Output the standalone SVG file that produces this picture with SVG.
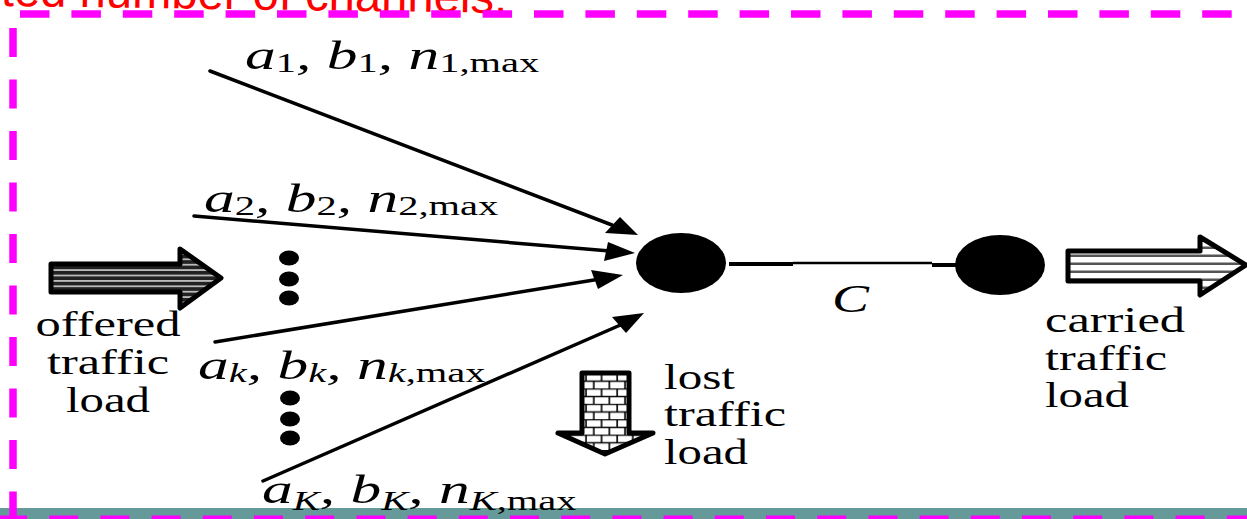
<svg xmlns="http://www.w3.org/2000/svg" width="1247" height="519" viewBox="0 0 1247 519">
<style>
.t{font-family:"Liberation Serif","Times New Roman",serif;font-size:35px;fill:#000}
.m{font-family:"Liberation Serif","Times New Roman",serif;font-size:41px;font-style:italic;fill:#000}
.s{font-size:27px;font-style:normal}
.si{font-size:27px;font-style:italic}
.d{fill:none;stroke:#f0f;stroke-linecap:butt}
.l{fill:none;stroke:#000;stroke-width:3.5;stroke-linecap:round}
.h{fill:#000}
.b{stroke:#000;stroke-width:5;stroke-linejoin:round}
</style>
<defs>
<pattern id="dense" width="10" height="5.4" patternUnits="userSpaceOnUse" y="1"><rect width="10" height="5.4" fill="#bbb"/><rect width="10" height="3.6" fill="#222"/></pattern>
<pattern id="sparse" width="10" height="8" patternUnits="userSpaceOnUse" y="1"><rect width="10" height="8" fill="#fff"/><rect y="5.5" width="10" height="2.5" fill="#555"/></pattern>
<pattern id="brick" width="15.6" height="15.4" patternUnits="userSpaceOnUse" x="582" y="373"><rect width="15.6" height="15.4" fill="#fff"/><path d="M0 .5H15.6M0 8.2H15.6M4 .5V8.2M11.8 8.2V15.4" stroke="#000" stroke-width="1.6" fill="none"/></pattern>
</defs>
<text transform="translate(507 13) rotate(0.8)" text-anchor="end" style="font-family:'Liberation Sans',Arial,sans-serif;font-size:47.2px;fill:#f00">ited number of channels.</text>
<rect x="0" y="508" width="1247" height="11" fill="#669999"/>
<g id="frame">
<path class="d" stroke-width="7.5" stroke-dasharray="29.5 21.9" d="M20 14H1247"/>
<path class="d" stroke-width="7.5" stroke-dasharray="29 22.5" d="M13 28V519"/>
<path class="d" stroke-width="3.5" stroke-dasharray="29 22.2" d="M-2 517.3H1247"/>
</g>
<g id="connectors">
<path class="l" d="M210 71L612 225"/>
<path class="h" d="M638 235L605 233L620 217Z"/>
<path class="l" d="M194 216L610 251"/>
<path class="h" d="M635 253L604 261L608 242Z"/>
<path class="l" d="M215 342L600 279"/>
<path class="h" d="M623 275L598 289L591 270Z"/>
<path class="l" d="M263 481L625 323"/>
<path class="h" d="M644 313L612 317L626 333Z"/>
<path fill="none" stroke="#000" stroke-width="4" d="M729 264H793"/>
<path fill="none" stroke="#000" stroke-width="2.5" d="M793 263H932"/>
<path fill="none" stroke="#000" stroke-width="4" d="M932 265H958"/>
</g>
<g id="node-a"><ellipse cx="681" cy="263" rx="45" ry="30"/></g>
<g id="node-b"><ellipse cx="1000" cy="265" rx="45" ry="30"/></g>
<g id="dots-upper"><ellipse cx="289" cy="258" rx="10" ry="7.5"/><ellipse cx="289" cy="279" rx="10" ry="7.5"/><ellipse cx="289" cy="298" rx="10" ry="7.5"/></g>
<g id="dots-lower"><ellipse cx="290" cy="398" rx="10" ry="7.5"/><ellipse cx="290" cy="419" rx="10" ry="7.5"/><ellipse cx="290" cy="438" rx="10" ry="7.5"/></g>
<g id="offered-arrow"><path class="b" fill="url(#dense)" d="M51 264H180V249L221 278L180 308V292H51Z"/></g>
<g id="carried-arrow"><path class="b" fill="url(#sparse)" d="M1068 251H1200V237L1246 265L1200 295V281H1068Z"/></g>
<g id="lost-arrow"><path class="b" fill="url(#brick)" d="M582 373H629V433H653L605 454L558 433H582Z"/></g>
<g id="label-offered">
<text class="t" x="108" y="336" text-anchor="middle" textLength="145" lengthAdjust="spacingAndGlyphs">offered</text>
<text class="t" x="108" y="374" text-anchor="middle" textLength="122" lengthAdjust="spacingAndGlyphs">traffic</text>
<text class="t" x="108" y="412" text-anchor="middle" textLength="84" lengthAdjust="spacingAndGlyphs">load</text>
</g>
<g id="label-lost">
<text class="t" x="664" y="389" textLength="71" lengthAdjust="spacingAndGlyphs">lost</text>
<text class="t" x="664" y="426" textLength="122" lengthAdjust="spacingAndGlyphs">traffic</text>
<text class="t" x="664" y="464" textLength="84" lengthAdjust="spacingAndGlyphs">load</text>
</g>
<g id="label-carried">
<text class="t" x="1045" y="332" textLength="140" lengthAdjust="spacingAndGlyphs">carried</text>
<text class="t" x="1045" y="370" textLength="122" lengthAdjust="spacingAndGlyphs">traffic</text>
<text class="t" x="1045" y="407" textLength="84" lengthAdjust="spacingAndGlyphs">load</text>
</g>
<g id="label-C"><text class="m" transform="translate(832 312) scale(1.35 1)">C</text></g>
<g id="label-1"><text class="m" transform="translate(245 69) scale(1.5 1)">a<tspan class="s" dy="3">1</tspan><tspan dy="-3">, b</tspan><tspan class="s" dy="3">1</tspan><tspan dy="-3">, n</tspan><tspan class="s" dy="3">1,max</tspan></text></g>
<g id="label-2"><text class="m" transform="translate(204 212) scale(1.5 1)">a<tspan class="s" dy="3">2</tspan><tspan dy="-3">, b</tspan><tspan class="s" dy="3">2</tspan><tspan dy="-3">, n</tspan><tspan class="s" dy="3">2,max</tspan></text></g>
<g id="label-k"><text class="m" transform="translate(198 379) scale(1.5 1)">a<tspan class="si" dy="3">k</tspan><tspan dy="-3">, b</tspan><tspan class="si" dy="3">k</tspan><tspan dy="-3">, n</tspan><tspan class="si" dy="3">k</tspan><tspan class="s">,max</tspan></text></g>
<g id="label-K"><text class="m" transform="translate(262 503) scale(1.5 1)">a<tspan class="si" dy="7">K</tspan><tspan dy="-7">, b</tspan><tspan class="si" dy="7">K</tspan><tspan dy="-7">, n</tspan><tspan class="si" dy="7">K</tspan><tspan class="s">,max</tspan></text></g>
</svg>
